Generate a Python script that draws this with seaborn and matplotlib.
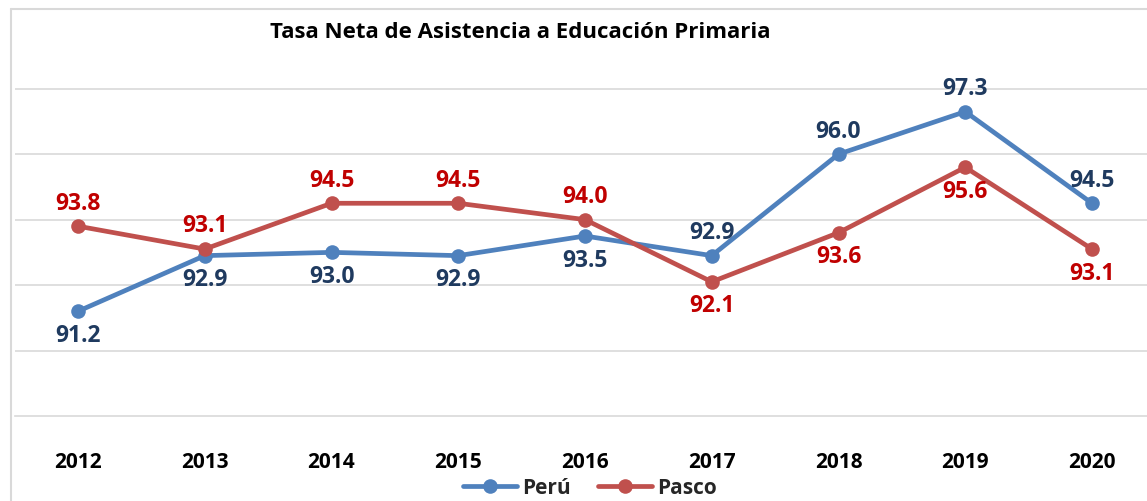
import seaborn as sns
import matplotlib.pyplot as plt
import pandas as pd
from matplotlib.lines import Line2D

# datos
anios = ['2012', '2013', '2014', '2015', '2016', '2017', '2018', '2019', '2020']
peru = [91.2, 92.9, 93.0, 92.9, 93.5, 92.9, 96.0, 97.3, 94.5]
pasco = [93.8, 93.1, 94.5, 94.5, 94.0, 92.1, 93.6, 95.6, 93.1]
series = ['Perú', 'Pasco']

AZUL = '#4F81BD'
ROJO = '#C0504D'
AZUL_TXT = '#1F3A5F'
ROJO_TXT = '#C00000'
GRIS = '#D9D9D9'

sns.set_style('white')
plt.rcParams['font.family'] = ['Open Sans', 'DejaVu Sans']

df = pd.DataFrame({
    'pos': list(range(len(anios))) * 2,
    'valor': peru + pasco,
    'serie': [series[0]] * len(anios) + [series[1]] * len(anios),
})

W, H = 1147, 502
fig = plt.figure(figsize=(W / 100, H / 100), dpi=100)

# area del grafico: x 0..8 -> 78..1092 px, y 88..99 -> 417..57 px
unit = (1092 - 78) / 8
left = (78 - unit / 2) / W
ax = fig.add_axes([left, (H - 417) / H, 9 * unit / W, 360 / H])

sns.lineplot(data=df, x='pos', y='valor', hue='serie', palette=[AZUL, ROJO],
             marker='o', markersize=10.5, markeredgewidth=0, linewidth=3.4,
             legend=False, ax=ax, zorder=3)

ax.set_xlim(-0.5, 8.5)
ax.set_ylim(88, 99)
ax.set_yticks([90, 92, 94, 96, 98])
ax.yaxis.grid(True, color=GRIS, linewidth=1.2)
ax.tick_params(left=False, bottom=False, labelleft=False)
ax.set_xticks(range(len(anios)))
ax.set_xticklabels(anios, fontsize=15, fontweight='bold', color='black')
ax.tick_params(axis='x', pad=22)
ax.set_xlabel('')
ax.set_ylabel('')
for s in ['left', 'right', 'top']:
    ax.spines[s].set_visible(False)
ax.spines['bottom'].set_color(GRIS)
ax.spines['bottom'].set_linewidth(1.2)

# etiquetas de datos
for i in range(len(anios)):
    dy_peru = -17 if i < 5 else 17
    ax.annotate(f'{peru[i]:.1f}', (i, peru[i]), xytext=(0, dy_peru),
                textcoords='offset points', ha='center', va='center',
                fontsize=16.5, fontweight='bold', color=AZUL_TXT)
    ax.annotate(f'{pasco[i]:.1f}', (i, pasco[i]), xytext=(0, -dy_peru),
                textcoords='offset points', ha='center', va='center',
                fontsize=16.5, fontweight='bold', color=ROJO_TXT)

# titulo
fig.text(520 / W, 1 - 33 / H, 'Tasa Neta de Asistencia a Educación Primaria',
         ha='center', va='center', fontsize=16, fontweight='bold', color='black')

# borde del area del grafico
fig.add_artist(Line2D([11 / W, 11 / W], [0, 1 - 10 / H], color=GRIS, linewidth=1.5))
fig.add_artist(Line2D([11 / W, 1], [1 - 10 / H, 1 - 10 / H], color=GRIS, linewidth=1.5))

# leyenda
handles = [Line2D([], [], color=c, linewidth=3.4, marker='o', markersize=10.5,
                  markeredgewidth=0) for c in [AZUL, ROJO]]
fig.legend(handles, series, loc='center', bbox_to_anchor=(590 / W, 13 / H),
           ncol=2, frameon=False, handlelength=2.6, handletextpad=0.25,
           columnspacing=1.3, borderpad=0.1, prop={'weight': 'bold', 'size': 15})

fig.savefig('out.png', dpi=100)
